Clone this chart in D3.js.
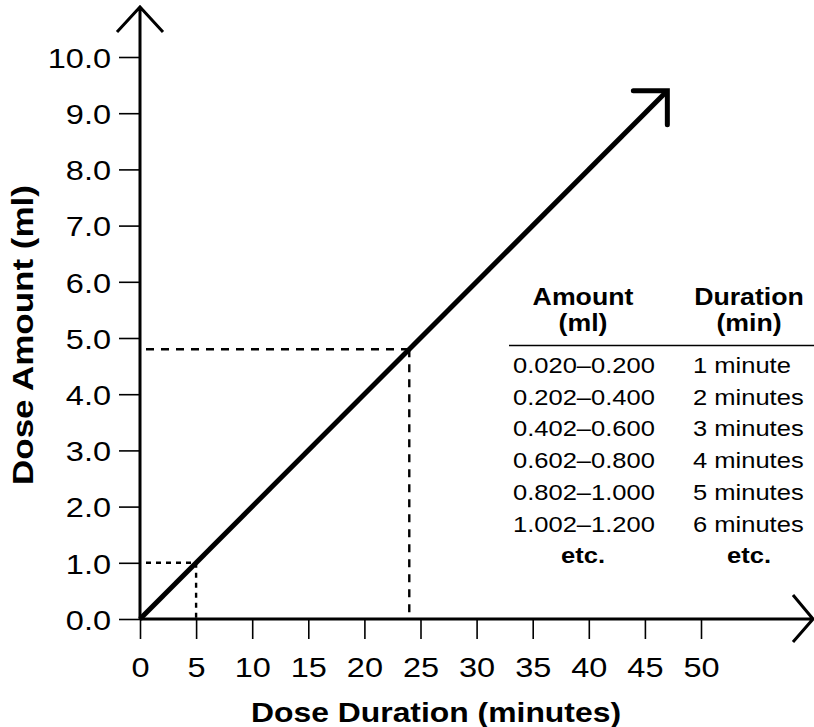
<!DOCTYPE html>
<html>
<head>
<meta charset="utf-8">
<script src="https://cdn.jsdelivr.net/npm/d3@7"></script>
<style>
  body { margin: 0; background: #fff; }
  svg { display: block; font-family: "Liberation Sans", Arial, sans-serif; }
</style>
</head>
<body>
<div class="canvas"></div>
<script>
const canvasWidth = 814, canvasHeight = 727;

// axis ticks
const xTicks = [0, 5, 10, 15, 20, 25, 30, 35, 40, 45, 50];
const yTicks = [0, 1, 2, 3, 4, 5, 6, 7, 8, 9, 10];

// dose line (minutes, ml) and guide points
const doseLine = [[0, 0], [47, 9.4]];
const guides = [[5, 1.0], [24, 4.8]];

// lookup table
const tableHeaders = [["Amount", "(ml)"], ["Duration", "(min)"]];
const amountRanges = ["0.020\u20130.200", "0.202\u20130.400", "0.402\u20130.600", "0.602\u20130.800", "0.802\u20131.000", "1.002\u20131.200"];
const durationLabels = ["1 minute", "2 minutes", "3 minutes", "4 minutes", "5 minutes", "6 minutes"];
const tableTail = ["etc.", "etc."];

const SX = 1.16; // text is drawn a bit wider than Liberation Sans

const x = d3.scaleLinear().domain([0, 50]).range([140, 701]);
const y = d3.scaleLinear().domain([0, 10]).range([619, 57]);

const svg = d3.select(".canvas").append("svg")
  .attr("width", canvasWidth)
  .attr("height", canvasHeight)
  .style("background-color", "white");

function widen(sel) {
  sel.each(function () {
    const w = this.getComputedTextLength();
    d3.select(this).attr("textLength", w * SX).attr("lengthAdjust", "spacingAndGlyphs");
  });
}

// y axis ticks
const gy = svg.append("g")
  .attr("transform", `translate(${x(0)},0)`)
  .call(d3.axisLeft(y).tickValues(yTicks).tickSize(21).tickPadding(8).tickFormat(d3.format(".1f")));
gy.select(".domain").remove();
gy.selectAll(".tick line").attr("stroke", "#000").attr("stroke-width", 1.6);
gy.selectAll(".tick text")
  .attr("fill", "#000").attr("font-size", 28).attr("font-family", null).attr("dy", "0.37em")
  .call(widen);

// x axis ticks
const gx = svg.append("g")
  .attr("transform", `translate(0,${y(0)})`)
  .call(d3.axisBottom(x).tickValues(xTicks).tickSize(20).tickPadding(18));
gx.select(".domain").remove();
gx.selectAll(".tick line").attr("stroke", "#000").attr("stroke-width", 1.6);
gx.selectAll(".tick text")
  .attr("fill", "#000").attr("font-size", 28).attr("font-family", null)
  .call(widen);

// axis lines with open arrow heads
svg.append("path")
  .attr("d", `M${x(0)},${y(0)}V7M117,32L${x(0)},7L163,32`)
  .attr("fill", "none").attr("stroke", "#000").attr("stroke-width", 3);
svg.append("path")
  .attr("d", `M${x(0)},${y(0)}H813M793,595L813,${y(0)}L793,642`)
  .attr("fill", "none").attr("stroke", "#000").attr("stroke-width", 3);

// dashed guides
guides.forEach((g, i) => {
  const dash = i === 0 ? "5,5" : "8,7";
  svg.append("path")
    .attr("d", `M${x(0) + 6},${y(g[1])}H${x(g[0])}`)
    .attr("fill", "none").attr("stroke", "#000").attr("stroke-width", 2.4)
    .attr("stroke-dasharray", dash);
  svg.append("path")
    .attr("d", `M${x(g[0])},${y(g[1])}V${y(0)}`)
    .attr("fill", "none").attr("stroke", "#000").attr("stroke-width", 2.4)
    .attr("stroke-dasharray", dash);
});

// dose line with arrow head
const line = d3.line().x(d => x(d[0])).y(d => y(d[1]));
svg.append("path")
  .attr("d", line(doseLine))
  .attr("fill", "none").attr("stroke", "#000").attr("stroke-width", 5);
const tip = doseLine[doseLine.length - 1];
const tx = x(tip[0]), ty = y(tip[1]);
svg.append("path")
  .attr("d", `M${tx - 34},${ty}L${tx},${ty}L${tx},${ty + 34}`)
  .attr("fill", "none").attr("stroke", "#000").attr("stroke-width", 5)
  .attr("stroke-linecap", "round").attr("stroke-linejoin", "miter");

// axis titles
svg.append("text")
  .attr("x", 436).attr("y", 722)
  .attr("text-anchor", "middle").attr("font-size", 28).attr("font-weight", "bold")
  .attr("textLength", 370).attr("lengthAdjust", "spacingAndGlyphs")
  .text("Dose Duration (minutes)");
svg.append("text")
  .attr("transform", "translate(33,335) rotate(-90)")
  .attr("text-anchor", "middle").attr("font-size", 29).attr("font-weight", "bold")
  .attr("textLength", 300).attr("lengthAdjust", "spacingAndGlyphs")
  .text("Dose Amount (ml)");

// table
const colCenters = [583, 749];
const colLefts = [513, 693];
const table = svg.append("g").attr("class", "table");

tableHeaders.forEach((h, i) => {
  h.forEach((t, j) => {
    table.append("text")
      .attr("x", colCenters[i]).attr("y", 305 + j * 26)
      .attr("text-anchor", "middle").attr("font-size", 23).attr("font-weight", "bold")
      .text(t);
  });
});
table.append("line")
  .attr("x1", 509).attr("x2", 814).attr("y1", 345.5).attr("y2", 345.5)
  .attr("stroke", "#000").attr("stroke-width", 1.5);

const rowY = d3.scaleLinear().domain([0, 1]).range([373, 404.7]);
amountRanges.forEach((a, i) => {
  table.append("text").attr("x", colLefts[0]).attr("y", rowY(i))
    .attr("font-size", 22).text(a);
  table.append("text").attr("x", colLefts[1]).attr("y", rowY(i))
    .attr("font-size", 22).text(durationLabels[i]);
});
tableTail.forEach((t, i) => {
  table.append("text").attr("x", colCenters[i]).attr("y", rowY(amountRanges.length))
    .attr("text-anchor", "middle").attr("font-size", 22).attr("font-weight", "bold")
    .text(t);
});
table.selectAll("text").call(widen);
</script>
</body>
</html>
